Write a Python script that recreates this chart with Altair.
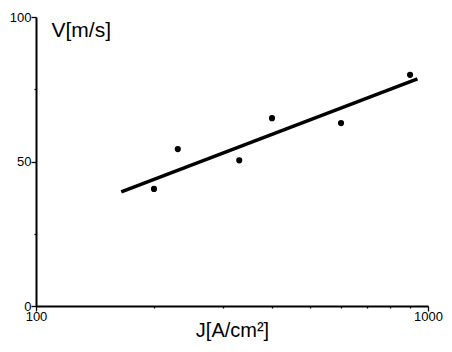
import altair as alt
import pandas as pd

# measured points
j_vals = [200, 230, 330, 400, 600, 900]
v_vals = [40.5, 54.3, 50.4, 65.0, 63.3, 80.0]

# fitted line end points
fit_j = [165, 940]
fit_v = [39.5, 78.6]

x_ticks = [100, 200, 300, 400, 500, 600, 700, 800, 900, 1000]
y_ticks = [0, 25, 50, 75, 100]

pts = pd.DataFrame({"J": j_vals, "V": v_vals})
fit = pd.DataFrame({"J": fit_j, "V": fit_v})

FONT = "Liberation Sans"

xscale = alt.Scale(type="log", domain=[100, 1000], nice=False)
yscale = alt.Scale(domain=[0, 100], nice=False)

xaxis = alt.Axis(
    title="J[A/cm²]",
    values=x_ticks,
    format="d",
    labelExpr="datum.value == 100 || datum.value == 1000 ? datum.label : ''",
    grid=False,
    domainColor="black",
    domainWidth=2,
    tickColor="black",
    tickWidth=1.3,
    tickSize={"condition": {"test": "datum.value == 100 || datum.value == 1000", "value": 5}, "value": 2},
    labelFont=FONT,
    labelFontSize=13,
    labelColor="black",
    labelPadding=-1,
    labelFlush=False,
    labelOverlap=False,
    titleFont=FONT,
    titleFontSize=20,
    titleFontWeight="normal",
    titleColor="black",
    titlePadding=-3,
)

yaxis = alt.Axis(
    title="V[m/s]",
    values=y_ticks,
    labelExpr="datum.value % 50 == 0 ? datum.label : ''",
    grid=False,
    domainColor="black",
    domainWidth=2,
    tickColor="black",
    tickWidth=1.3,
    tickSize={"condition": {"test": "datum.value % 50 == 0", "value": 5}, "value": 2},
    labelFont=FONT,
    labelFontSize=13,
    labelColor="black",
    labelPadding=0,
    labelFlush=False,
    labelOverlap=False,
    titleFont=FONT,
    titleFontSize=21,
    titleFontWeight="normal",
    titleColor="black",
    titleAngle=0,
    titleAlign="left",
    titleBaseline="top",
    titleX=15,
    titleY=2,
)

points = alt.Chart(pts).mark_circle(color="black", opacity=1, size=38).encode(
    x=alt.X("J:Q", scale=xscale, axis=xaxis),
    y=alt.Y("V:Q", scale=yscale, axis=yaxis),
)

line = alt.Chart(fit).mark_line(color="black", strokeWidth=3.5).encode(
    x=alt.X("J:Q", scale=xscale),
    y=alt.Y("V:Q", scale=yscale),
)

chart = (
    alt.layer(line, points)
    .properties(
        width=392,
        height=289,
        autosize=alt.AutoSizeParams(type="none"),
        padding={"left": 28, "top": 9, "right": 16, "bottom": 38},
        background="white",
    )
    .configure_view(stroke=None)
)

chart.save("out.html", embed_options={"renderer": "svg", "actions": False})
